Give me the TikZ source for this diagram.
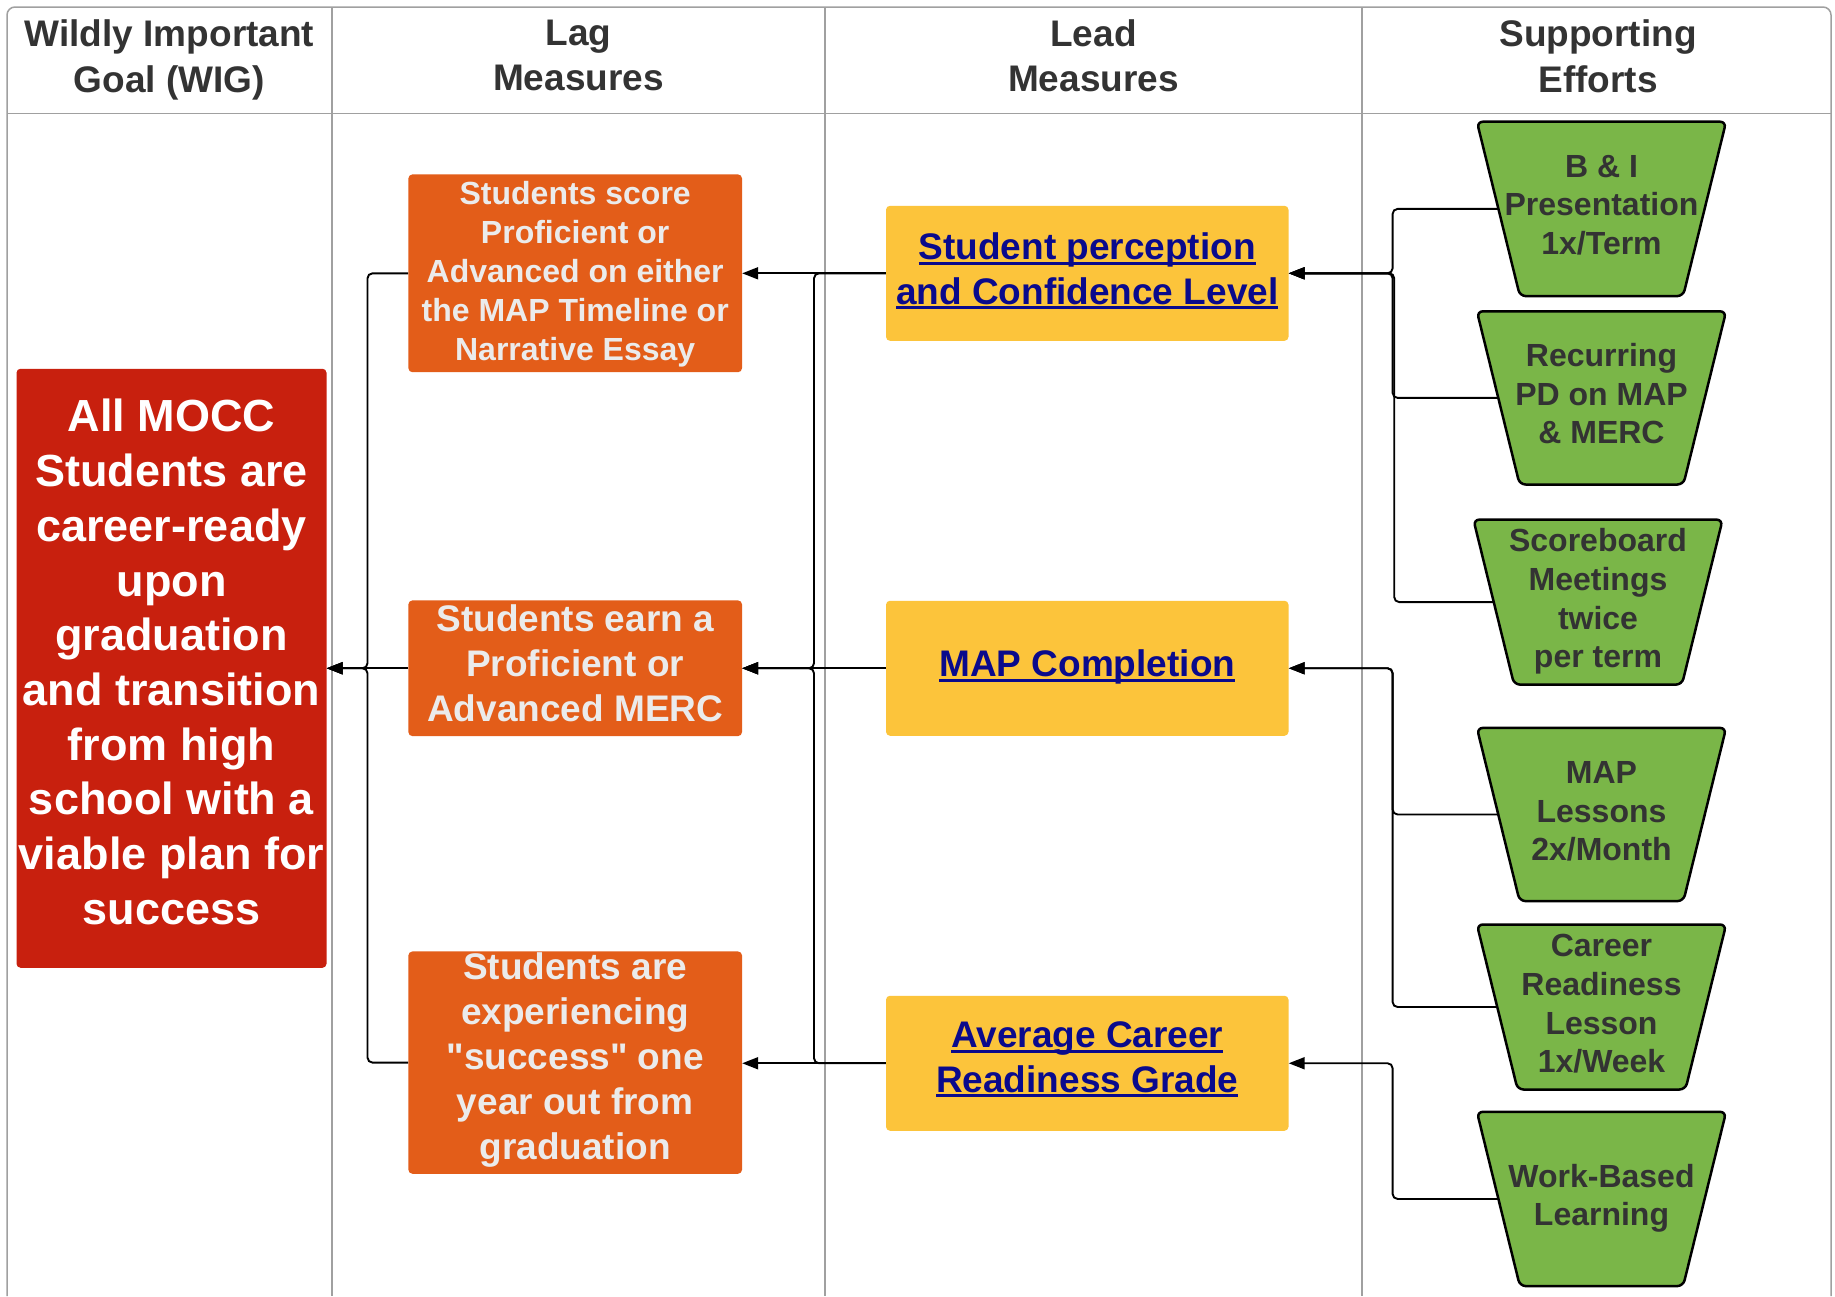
\documentclass[tikz,border=0pt]{standalone}
\usepackage{fontspec}
\setmainfont{Liberation Sans}[Ligatures=TeXOff]
\usetikzlibrary{arrows.meta}
\definecolor{gridgray}{HTML}{A0A0A0}
\definecolor{hdrgray}{HTML}{333333}
\definecolor{wigred}{HTML}{C8200E}
\definecolor{lagorange}{HTML}{E35D19}
\definecolor{lagtext}{HTML}{EBEBEB}
\definecolor{leadyellow}{HTML}{FCC43B}
\definecolor{leadnavy}{HTML}{0A0A8C}
\definecolor{effgreen}{HTML}{7AB648}
\newcommand\myul[1]{\leavevmode\setbox0=\hbox{#1}\rlap{\rule[-5pt]{\wd0}{3pt}}\box0}
\newcommand\effort[6]{%
  \draw[effshape] ({#2-124.6},#3) -- ({#2+124.6},#3) -- ({#2+124.6-0.2466*(#4-#3)},#4) -- ({#2-124.6+0.2466*(#4-#3)},#4) -- cycle;
  \node[efftext] (#1) at (#2,{(#3+#4)/2+#6}) {#5};
  \coordinate (#1L) at ({#2-124.6+0.1233*(#4-#3)},{(#3+#4)/2});
}
\begin{document}
\begin{tikzpicture}[x=1pt,y=-1pt,
  grid/.style={draw=gridgray, line width=1.5pt},
  conn/.style={draw=black, line width=1.9pt, rounded corners=5pt, -{Triangle[length=16pt,width=12pt]}},
  hdr/.style={font=\fontsize{37}{45.6}\selectfont\bfseries, text=hdrgray, align=center, inner sep=0pt},
  wigbox/.style={fill=wigred, rounded corners=4pt, minimum width=310pt, minimum height=599pt, inner sep=0pt},
  wigtext/.style={text=white, align=center, inner sep=0pt, font=\fontsize{45}{54.7}\selectfont\bfseries},
  lagbox/.style={fill=lagorange, rounded corners=4pt, minimum width=333.6pt, inner sep=0pt},
  lagtext/.style={text=lagtext, align=center, inner sep=0pt},
  leadbox/.style={fill=leadyellow, rounded corners=4pt, minimum width=402.5pt, minimum height=135pt, inner sep=0pt},
  leadtext/.style={text=leadnavy, align=center, inner sep=0pt, font=\fontsize{37}{44.5}\selectfont\bfseries},
  effshape/.style={draw=black, fill=effgreen, line width=2.5pt, rounded corners=6pt, line join=round},
  efftext/.style={text=hdrgray, align=center, inner sep=0pt, font=\fontsize{32}{38.6}\selectfont\bfseries},
]
\useasboundingbox (0,0) rectangle (1835,1296);
\fill[white] (0,0) rectangle (1835,1296);

% table grid
\draw[grid, rounded corners=8pt] (7,1296) -- (7,7) -- (1831,7) -- (1831,1296);
\draw[grid] (7,113.5) -- (1831,113.5);
\foreach \x in {332,825,1362} \draw[grid] (\x,7) -- (\x,1296);

% headers
\node[hdr] (h1) at (169.5,60) {Wildly Important\\Goal (WIG)};
\node[hdr] (h2) at (578.5,55.6) {Lag\\Measures};
\node[hdr] (h3) at (1093.5,55.6) {Lead\\Measures};
\node[hdr] (h4) at (1598,56.5) {Supporting\\Efforts};

% WIG
\node[wigbox] (wig) at (171.5,668.25) {};
\node[wigtext] (wigT) at (171.5,662) {All MOCC\\Students are\\career-ready\\upon\\graduation\\and transition\\from high\\school with a\\viable plan for\\success};

% lag measures
\node[lagbox, minimum height=197.8pt] (lag1) at (575.2,273.3) {};
\node[lagtext, font=\fontsize{32}{38.9}\selectfont\bfseries] (lag1T) at (575.2,274) {Students score\\Proficient or\\Advanced on either\\the MAP Timeline or\\Narrative Essay};
\node[lagbox, minimum height=135.7pt] (lag2) at (575.2,668.25) {};
\node[lagtext, font=\fontsize{37}{45}\selectfont\bfseries] (lag2T) at (575.2,663.5) {Students earn a\\Proficient or\\Advanced MERC};
\node[lagbox, minimum height=222.3pt] (lag3) at (575.2,1062.6) {};
\node[lagtext, font=\fontsize{37}{45}\selectfont\bfseries] (lag3T) at (575.2,1060.3) {Students are\\experiencing\\"success" one\\year out from\\graduation};

% lead measures
\node[leadbox] (lead1) at (1087.25,273.3) {};
\node[leadtext] (lead1T) at (1087.25,271) {\myul{Student perception}\\\myul{and Confidence Level}};
\node[leadbox] (lead2) at (1087.25,668.25) {};
\node[leadtext] (lead2T) at (1087.25,667) {\myul{MAP Completion}};
\node[leadbox] (lead3) at (1087.25,1063.25) {};
\node[leadtext] (lead3T) at (1087.25,1059.7) {\myul{Average Career}\\\myul{Readiness Grade}};

% supporting efforts
\effort{t1}{1601.5}{121.7}{296.1}{B \& I\\Presentation\\1x/Term}{-4}
\effort{t2}{1601.5}{311.3}{484.5}{Recurring\\PD on MAP\\\& MERC}{-4}
\effort{t3}{1598}{519.6}{684.6}{Scoreboard\\Meetings\\twice\\per term}{-0.5}
\effort{t4}{1601.5}{727.9}{901.1}{MAP\\Lessons\\2x/Month}{-3}
\effort{t5}{1601.5}{924.5}{1089.5}{Career\\Readiness\\Lesson\\1x/Week}{-3}
\effort{t6}{1601.5}{1111.8}{1286.1}{Work-Based\\Learning}{-0.5}

% trunks
\coordinate (sx) at (1392.6,0);
\coordinate (sx2) at (1394.2,0);
\coordinate (mx) at (814,0);
\coordinate (wx) at (367.5,0);

% efforts -> lead
\draw[conn] (t1L) -- (sx |- t1L) -- (sx |- lead1.east) -- (lead1.east);
\draw[conn] (t2L) -- (sx |- t2L) -- (sx |- lead1.east) -- (lead1.east);
\draw[conn] (t3L) -- (sx2 |- t3L) -- (sx2 |- lead1.east) -- (lead1.east);
\draw[conn] (t4L) -- (sx |- t4L) -- (sx |- lead2.east) -- (lead2.east);
\draw[conn] (t5L) -- (sx |- t5L) -- (sx |- lead2.east) -- (lead2.east);
\draw[conn] (t6L) -- (sx |- t6L) -- (sx |- lead3.east) -- (lead3.east);

% lead -> lag
\draw[conn] (lead1.west) -- (lag1.east |- lead1.west);
\draw[conn] (lead1.west) -- (mx |- lead1.west) -- (mx |- lag2.east) -- (lag2.east);
\draw[conn] (lead2.west) -- (lag2.east);
\draw[conn] (lead3.west) -- (mx |- lead3.west) -- (mx |- lag2.east) -- (lag2.east);
\draw[conn] (lead3.west) -- (lag3.east |- lead3.west);

% lag -> WIG
\draw[conn] (lag1.west) -- (wx |- lag1.west) -- (wx |- wig.east) -- (wig.east);
\draw[conn] (lag2.west) -- (wig.east);
\draw[conn] (lag3.west) -- (wx |- lag3.west) -- (wx |- wig.east) -- (wig.east);
\end{tikzpicture}
\end{document}
